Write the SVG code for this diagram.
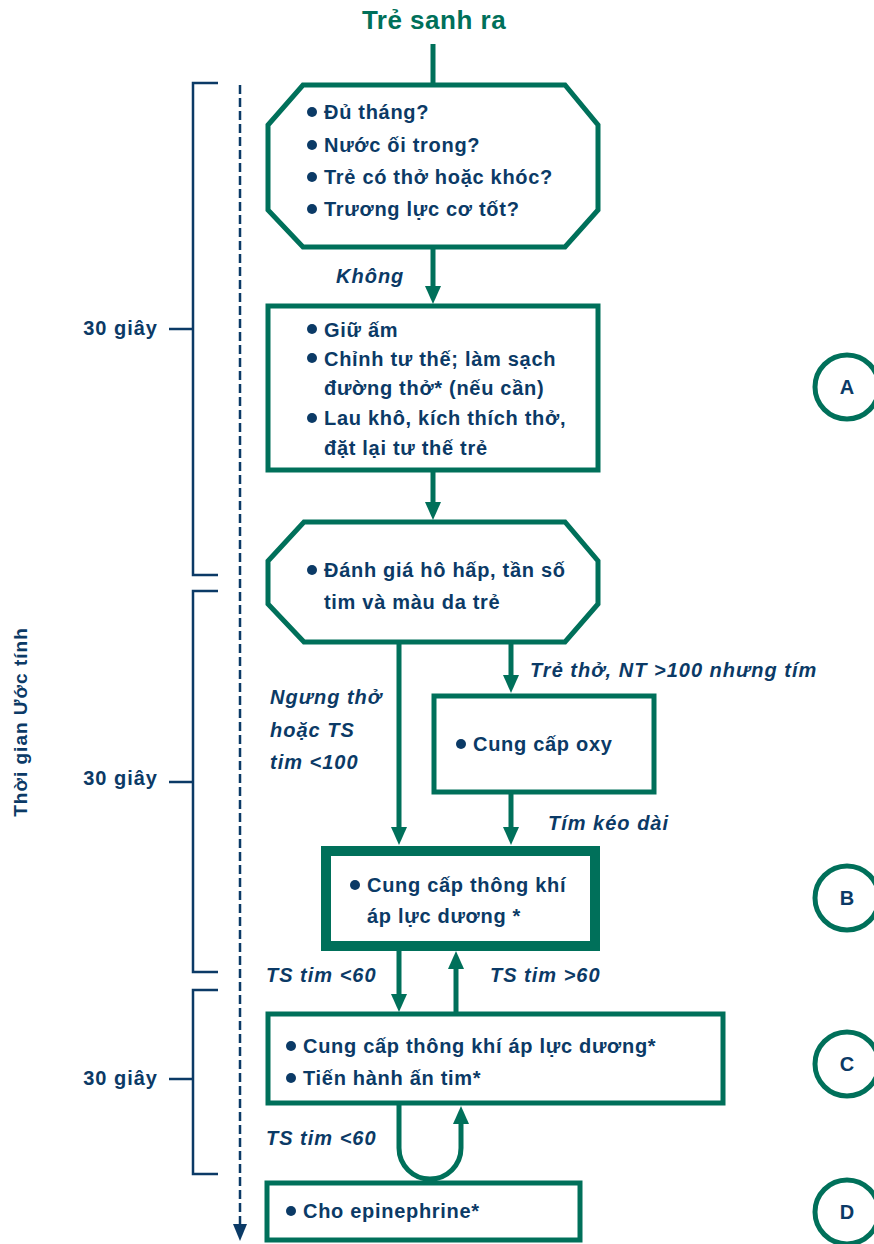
<svg xmlns="http://www.w3.org/2000/svg" xmlns:xlink="http://www.w3.org/1999/xlink" width="874" height="1244" viewBox="0 0 874 1244">
<style>
.box{fill:#fff;stroke:#00705A;stroke-width:5}
.thick{fill:#fff;stroke:#00705A;stroke-width:10}
.t{font-family:"Liberation Sans",Arial,sans-serif;font-weight:bold;font-size:20px;letter-spacing:0.7px;fill:#0B3A66}
.lbl{font-family:"Liberation Sans",Arial,sans-serif;font-weight:bold;font-style:italic;font-size:20px;letter-spacing:1px;fill:#0B3A66}
.side{font-family:"Liberation Sans",Arial,sans-serif;font-weight:bold;font-size:20px;letter-spacing:1px;fill:#0B3A66}
.vert{font-family:"Liberation Sans",Arial,sans-serif;font-weight:bold;font-size:19px;letter-spacing:1px;fill:#0B3A66}
.letter{font-family:"Liberation Sans",Arial,sans-serif;font-weight:bold;font-size:20px;fill:#0B3A66}
.title{font-family:"Liberation Sans",Arial,sans-serif;font-weight:bold;font-size:26px;letter-spacing:0.5px;fill:#00705A}
.circ{fill:#fff;stroke:#00705A;stroke-width:5}
.ln{fill:none;stroke:#00705A;stroke-width:5}
.br{fill:none;stroke:#0B3A66;stroke-width:2.5}
.dash{fill:none;stroke:#0B3A66;stroke-width:2.5;stroke-dasharray:9 4}
.ah{fill:#00705A}
.b{fill:#0B3A66}
</style>
<defs>
<polygon id="ahd" points="-8,-18 8,-18 0,0" class="ah"/>
<polygon id="ahu" points="-8,18 8,18 0,0" class="ah"/>
</defs>

<g id="timeline">
<line class="dash" x1="240" y1="85" x2="240" y2="1226"/>
<polygon points="233,1224 247,1224 240,1241" fill="#0B3A66"/>
<text class="vert" transform="translate(27,722) rotate(-90)" text-anchor="middle">Thời gian Ước tính</text>
<path class="br" d="M218,83 H193 V575 H218"/>
<line class="br" x1="169" y1="329" x2="193" y2="329"/>
<text class="side" x="158" y="335" text-anchor="end">30 giây</text>
<path class="br" d="M218,591 H193 V972 H218"/>
<line class="br" x1="169" y1="782" x2="193" y2="782"/>
<text class="side" x="158" y="785" text-anchor="end">30 giây</text>
<path class="br" d="M218,990 H193 V1174 H218"/>
<line class="br" x1="169" y1="1079" x2="193" y2="1079"/>
<text class="side" x="158" y="1085" text-anchor="end">30 giây</text>
</g>

<g id="title"><text class="title" x="434" y="29" text-anchor="middle">Trẻ sanh ra</text></g>

<g id="connectors">
<line class="ln" x1="433" y1="44" x2="433" y2="86"/>
<line class="ln" x1="433" y1="248" x2="433" y2="290"/><use xlink:href="#ahd" x="433" y="304"/>
<line class="ln" x1="433" y1="472" x2="433" y2="506"/><use xlink:href="#ahd" x="433" y="520"/>
<line class="ln" x1="399" y1="643" x2="399" y2="831"/><use xlink:href="#ahd" x="399" y="845"/>
<line class="ln" x1="511" y1="643" x2="511" y2="679"/><use xlink:href="#ahd" x="511" y="693"/>
<line class="ln" x1="511" y1="793" x2="511" y2="831"/><use xlink:href="#ahd" x="511" y="845"/>
<line class="ln" x1="399" y1="950" x2="399" y2="998"/><use xlink:href="#ahd" x="399" y="1012"/>
<line class="ln" x1="456" y1="1012" x2="456" y2="965"/><use xlink:href="#ahu" x="456" y="951"/>
<path class="ln" d="M399,1104 V1148 A31,31 0 0 0 461,1148 V1120"/><use xlink:href="#ahu" x="461" y="1106"/>
<text class="lbl" x="336" y="283">Không</text>
<text class="lbl" x="530" y="677">Trẻ thở, NT &gt;100 nhưng tím</text>
<text class="lbl" x="270" y="704">Ngưng thở</text>
<text class="lbl" x="270" y="737">hoặc TS</text>
<text class="lbl" x="270" y="769">tim &lt;100</text>
<text class="lbl" x="548" y="830">Tím kéo dài</text>
<text class="lbl" x="266" y="982">TS tim &lt;60</text>
<text class="lbl" x="490" y="982">TS tim &gt;60</text>
<text class="lbl" x="266" y="1145">TS tim &lt;60</text>
</g>

<g id="n-check">
<polygon class="box" points="303,85 565,85 598,125 598,210 565,247 303,247 268,210 268,125"/>
<circle class="b" cx="312" cy="112" r="5"/>
<text class="t" x="324" y="119">Đủ tháng?</text>
<circle class="b" cx="312" cy="145" r="5"/>
<text class="t" x="324" y="152">Nước ối trong?</text>
<circle class="b" cx="312" cy="177" r="5"/>
<text class="t" x="324" y="184">Trẻ có thở hoặc khóc?</text>
<circle class="b" cx="312" cy="209" r="5"/>
<text class="t" x="324" y="216">Trương lực cơ tốt?</text>
</g>

<g id="n-a">
<rect class="box" x="268" y="306" width="330" height="164"/>
<circle class="b" cx="312" cy="329" r="5"/>
<text class="t" x="324" y="337">Giữ ấm</text>
<circle class="b" cx="312" cy="358" r="5"/>
<text class="t" x="324" y="366">Chỉnh tư thế; làm sạch</text>
<text class="t" x="324" y="395">đường thở* (nếu cần)</text>
<circle class="b" cx="312" cy="418" r="5"/>
<text class="t" x="324" y="425">Lau khô, kích thích thở,</text>
<text class="t" x="324" y="455">đặt lại tư thế trẻ</text>
</g>

<g id="n-eval">
<polygon class="box" points="304,522 565,522 598,561 598,604 565,642 304,642 268,604 268,561"/>
<circle class="b" cx="312" cy="570" r="5"/>
<text class="t" x="324" y="577">Đánh giá hô hấp, tần số</text>
<text class="t" x="324" y="609">tim và màu da trẻ</text>
</g>

<g id="n-oxy">
<rect class="box" x="434" y="696" width="220" height="96"/>
<circle class="b" cx="461" cy="744" r="5"/>
<text class="t" x="473" y="751">Cung cấp oxy</text>
</g>

<g id="n-b">
<rect class="thick" x="326" y="851" width="269" height="95"/>
<circle class="b" cx="355" cy="885" r="5"/>
<text class="t" x="367" y="892">Cung cấp thông khí</text>
<text class="t" x="367" y="923">áp lực dương *</text>
</g>

<g id="n-c">
<rect class="box" x="268" y="1014" width="455" height="89"/>
<circle class="b" cx="291" cy="1046" r="5"/>
<text class="t" x="303" y="1053">Cung cấp thông khí áp lực dương*</text>
<circle class="b" cx="291" cy="1078" r="5"/>
<text class="t" x="303" y="1085">Tiến hành ấn tim*</text>
</g>

<g id="n-d">
<rect class="box" x="267" y="1183" width="313" height="57"/>
<circle class="b" cx="291" cy="1211" r="5"/>
<text class="t" x="303" y="1218">Cho epinephrine*</text>
</g>

<g id="c-a"><circle class="circ" cx="847" cy="387" r="32"/><text class="letter" x="847" y="394" text-anchor="middle">A</text></g>
<g id="c-b"><circle class="circ" cx="847" cy="898" r="32"/><text class="letter" x="847" y="905" text-anchor="middle">B</text></g>
<g id="c-c"><circle class="circ" cx="847" cy="1064" r="32"/><text class="letter" x="847" y="1071" text-anchor="middle">C</text></g>
<g id="c-d"><circle class="circ" cx="847" cy="1212" r="32"/><text class="letter" x="847" y="1219" text-anchor="middle">D</text></g>
</svg>
